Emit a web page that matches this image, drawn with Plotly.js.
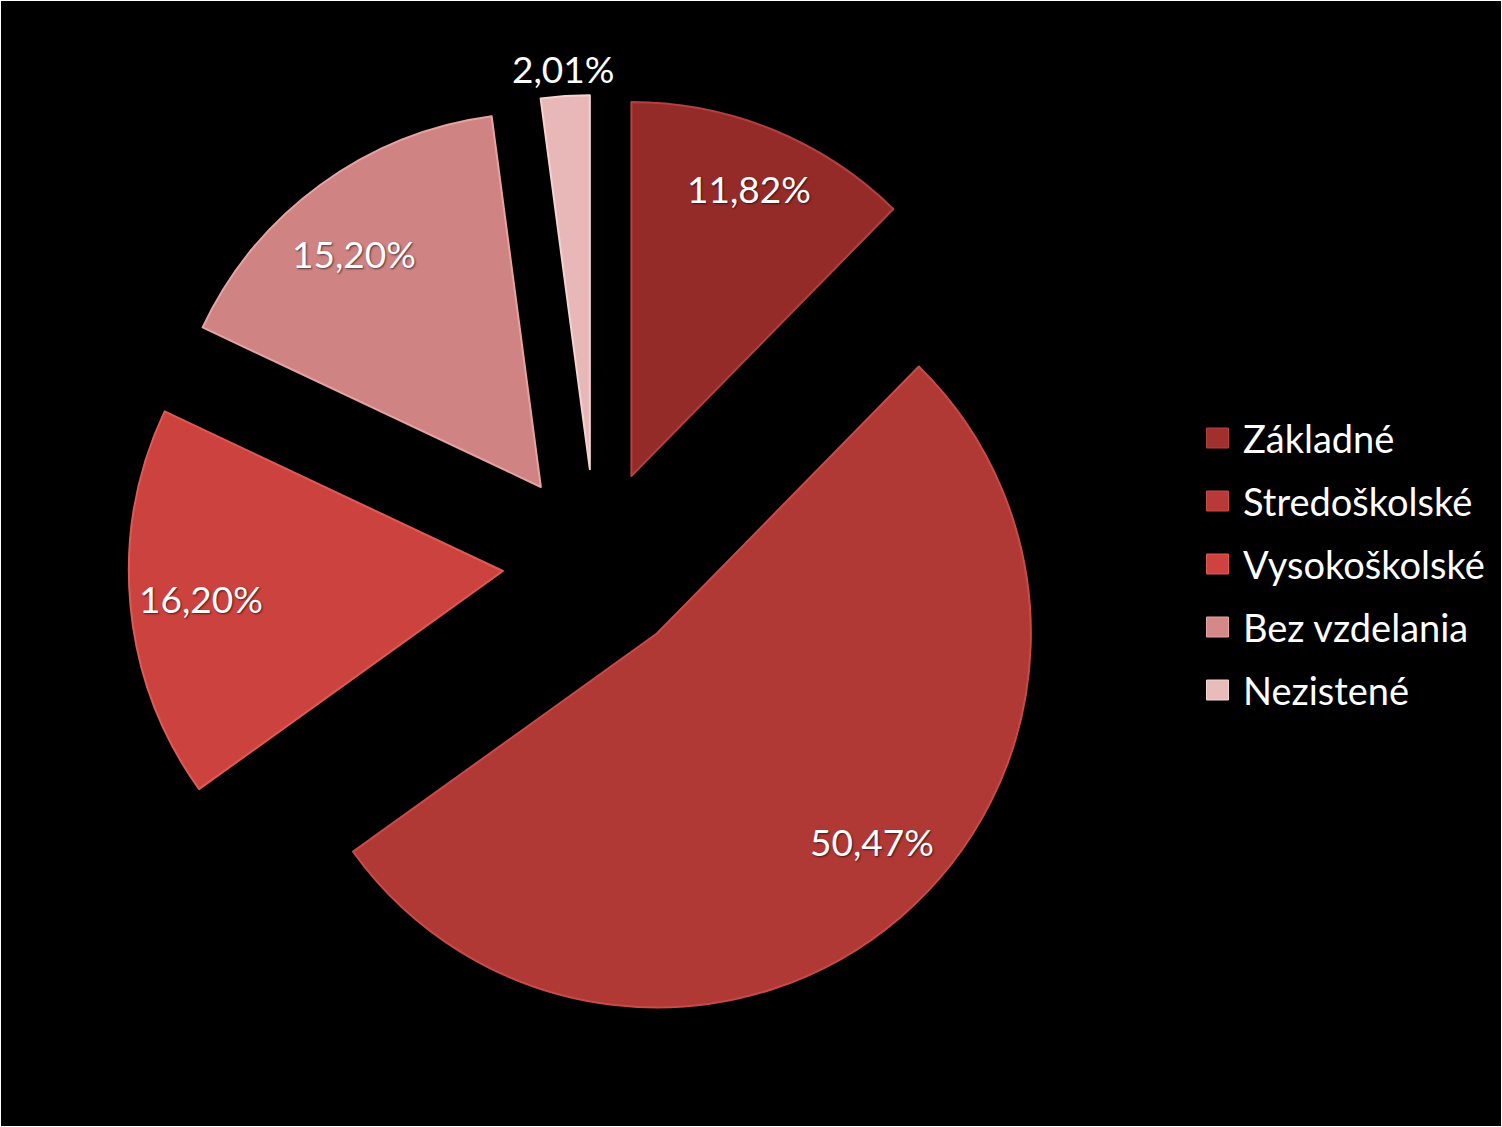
<!DOCTYPE html>
<html>
<head>
<meta charset="utf-8">
<script src="https://cdn.plot.ly/plotly-3.0.1.min.js"></script>
<style>
  html, body { margin: 0; padding: 0; background: #ffffff; }
  #chart { position: absolute; left: 1px; top: 1px; width: 1500px; height: 1125px; background: #000; }
</style>
</head>
<body>
<div id="chart"></div>
<script>
// ---- data ----
const categories = ['Základné', 'Stredoškolské', 'Vysokoškolské', 'Bez vzdelania', 'Nezistené'];
const values = [11.82, 50.47, 16.20, 15.20, 2.01];
const valueLabels = ['11,82%', '50,47%', '16,20%', '15,20%', '2,01%'];

// ---- styles ----
const sliceColors = ['#952b29', '#b03835', '#cc423e', '#cf8383', '#e8b8b8'];
const edgeColors  = ['#b24140', '#c84b48', '#e05a55', '#e7a2a2', '#f5d3d3'];
const legendColors = ['#a0302e', '#b83a38', '#d0423f', '#d48888', '#e9bcbc'];
// label placement: radial fraction (from pulled apex) and angular nudge in degrees
const labelRadius = [0.83, 0.80, 0.81, 0.80, 1.075];
const labelAngleShift = [0, -5.4, 0, -2.4, 0];

const W = 1500, H = 1125;
const M = { l: 0, r: 0, t: 94, b: 96 };
const domainX = [0, 1190 / 1500];
const pull = 0.25;
const fontFamily = 'Lato, "Open Sans", sans-serif';

const pw = W - M.l - M.r, ph = H - M.t - M.b;
const rx = pw * (domainX[1] - domainX[0]) / 2, ry = ph / 2;
const R = Math.min(rx, ry) / (1 + pull);
const cx = M.l + pw * (domainX[0] + domainX[1]) / 2;
const cy = M.t + ry;

const total = values.reduce((a, b) => a + b, 0);
const annotations = [];
const shapes = [];
let cum = 0;
values.forEach((v, i) => {
  const mid = 2 * Math.PI * (cum + v / 2) / total;
  cum += v;
  // pulled apex
  const ax = cx + R * pull * Math.sin(mid);
  const ay = cy - R * pull * Math.cos(mid);
  const la = mid + labelAngleShift[i] * Math.PI / 180;
  const px = ax + R * labelRadius[i] * Math.sin(la);
  const py = ay - R * labelRadius[i] * Math.cos(la);
  annotations.push({
    text: valueLabels[i], showarrow: false,
    xref: 'paper', yref: 'paper',
    x: (px - M.l) / pw, y: 1 - (py - M.t) / ph,
    xanchor: 'center', yanchor: 'middle',
    font: { family: fontFamily, size: 37, color: '#ffffff', shadow: '1px 1px 2px rgba(0,0,0,0.6)' }
  });
});

// legend
const legendMarkerX = 1216.5, legendTextX = 1240, legendTop = 437, legendStep = 63;
categories.forEach((c, i) => {
  const py = legendTop + legendStep * i;
  const yp = 1 - (py - M.t) / ph;
  shapes.push({
    type: 'rect', xref: 'paper', yref: 'paper',
    xsizemode: 'pixel', ysizemode: 'pixel',
    xanchor: (legendMarkerX - M.l) / pw, yanchor: yp,
    x0: -11, x1: 11, y0: -10, y1: 10,
    fillcolor: legendColors[i], line: { color: edgeColors[i], width: 1 }
  });
  annotations.push({
    text: c, showarrow: false,
    xref: 'paper', yref: 'paper',
    x: (legendTextX - M.l) / pw, y: yp,
    xanchor: 'left', yanchor: 'middle',
    font: { family: fontFamily, size: 38, color: '#ffffff' }
  });
});

const trace = {
  type: 'pie',
  labels: categories,
  values: values,
  sort: false,
  direction: 'clockwise',
  rotation: 0,
  pull: values.map(() => pull),
  textinfo: 'none',
  hoverinfo: 'label+text',
  text: valueLabels,
  marker: { colors: sliceColors, line: { color: edgeColors, width: 2 } },
  domain: { x: domainX, y: [0, 1] },
  showlegend: false
};

const layout = {
  width: W, height: H,
  margin: { l: M.l, r: M.r, t: M.t, b: M.b, pad: 0 },
  paper_bgcolor: '#000000',
  plot_bgcolor: '#000000',
  showlegend: false,
  annotations: annotations,
  shapes: shapes,
  font: { family: fontFamily, color: '#ffffff' }
};

Plotly.newPlot('chart', [trace], layout, { displayModeBar: false, staticPlot: true });
</script>
</body>
</html>
